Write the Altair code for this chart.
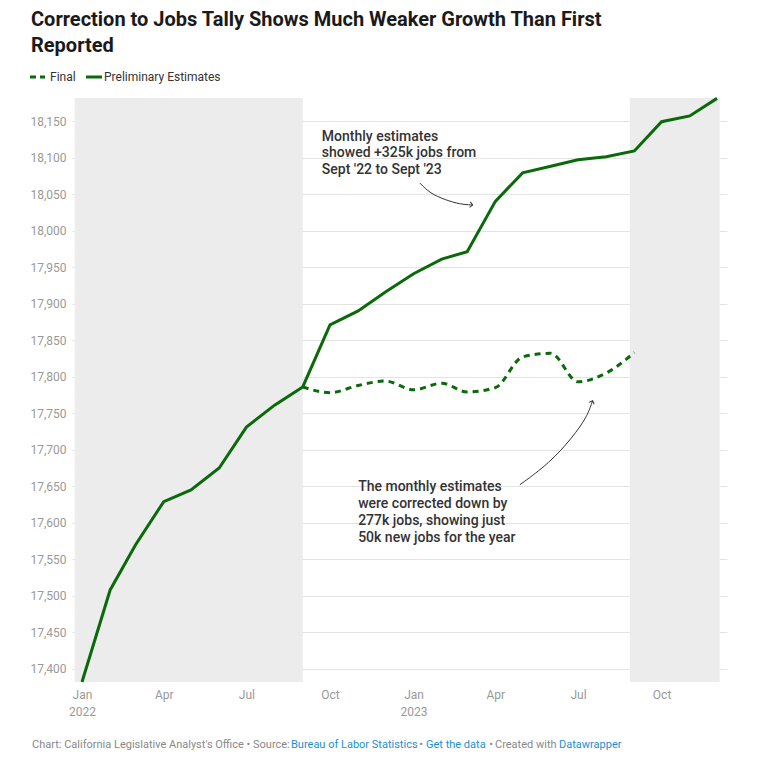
import altair as alt
import pandas as pd

# ---- data ----
months = pd.date_range("2022-01-01", "2023-12-01", freq="MS").strftime("%Y-%m-%dT00:00").tolist()
preliminary = [17382, 17508, 17570, 17629, 17645, 17675, 17731, 17761, 17786,
               17871, 17890, 17916, 17941, 17961, 17971, 18040, 18079, 18088,
               18097, 18101, 18109, 18149, 18157, 18181]
final_months = months[8:21]
final = [17786, 17778, 17788, 17794, 17782, 17791, 17779, 17785, 17827, 17832,
         17793, 17805, 17833]

band_start = ["2021-12-24T00:00", "2023-08-27T00:00"]
band_end = ["2022-09-01T00:00", "2023-12-04T00:00"]

y_ticks = list(range(17400, 18151, 50))
x_ticks = ["2022-01-01T00:00", "2022-04-01T00:00", "2022-07-01T00:00", "2022-10-01T00:00",
           "2023-01-01T00:00", "2023-04-01T00:00", "2023-07-01T00:00", "2023-10-01T00:00"]

ann1_lines = ["Monthly estimates", "showed +325k jobs from", "Sept '22 to Sept '23"]
ann1_x = "2022-09-22T00:00"
ann1_y = [18128, 18106, 18083]
ann2_lines = ["The monthly estimates", "were corrected down by",
              "277k jobs, showing just", "50k new jobs for the year"]
ann2_x = "2022-11-01T00:00"
ann2_y = [17649, 17626, 17603, 17579]

arrow1_x = ["2023-01-08T00:00", "2023-01-19T00:00", "2023-02-05T00:00", "2023-02-21T00:00", "2023-03-07T00:00"]
arrow1_y = [18065, 18051, 18042, 18036, 18035]
arrow2_x = ["2023-04-28T00:00", "2023-05-31T00:00", "2023-06-25T00:00", "2023-07-11T00:00", "2023-07-17T00:00"]
arrow2_y = [17652, 17682, 17717, 17745, 17767]

title_lines = ["Correction to Jobs Tally Shows Much Weaker Growth Than First", "Reported"]
legend_labels = ["Final", "Preliminary Estimates"]
foot_items = ["Chart: California Legislative Analyst's Office • Source:", "Bureau of Labor Statistics", "•",
              "Get the data", "•", "Created with", "Datawrapper"]

GREEN = "#0a6a0a"
FONT = "Roboto"
GRAYTXT = "#888"
LINK = "#1d8fd0"

W, H = 655, 584
x_dom = ["2021-12-21T00:00", "2023-12-12T00:00"]
y_dom = [17382, 18181.5]

xs = alt.Scale(domain=x_dom, nice=False)
ys = alt.Scale(domain=y_dom, nice=False, zero=False)

# ---- tables ----
prelim_df = pd.DataFrame({"date": months, "value": preliminary})
final_df = pd.DataFrame({"date": final_months, "value": final})
band_df = pd.DataFrame({"start": band_start, "end": band_end})
ann_df = pd.DataFrame({
    "date": [ann1_x] * len(ann1_lines) + [ann2_x] * len(ann2_lines),
    "value": ann1_y + ann2_y,
    "text": ann1_lines + ann2_lines,
})
arrow_df = pd.DataFrame({
    "date": arrow1_x + arrow2_x,
    "value": arrow1_y + arrow2_y,
    "arrow": ["a"] * len(arrow1_x) + ["b"] * len(arrow2_x),
    "order": list(range(len(arrow1_x))) + list(range(len(arrow2_x))),
})
head_df = pd.DataFrame({"date": [arrow1_x[-1], arrow2_x[-1]],
                        "value": [arrow1_y[-1], arrow2_y[-1]],
                        "angle": [8, 291]})

x_axis = alt.Axis(
    values=x_ticks, title=None, grid=False, domain=False, ticks=False,
    labelExpr="month(datum.value) == 0 ? [timeFormat(datum.value, '%b'), timeFormat(datum.value, '%Y')] : timeFormat(datum.value, '%b')",
    labelFont=FONT, labelFontSize=12, labelColor="#999", labelPadding=7,
    labelLineHeight=17, labelFlush=False, labelOverlap=False,
)
y_axis = alt.Axis(
    values=y_ticks, title=None, format=",.0f", domain=False, ticks=False,
    labelFont=FONT, labelFontSize=12, labelColor="#999", labelPadding=6,
    grid=True, gridColor="#e3e3e3", gridWidth=1,
)

def X(field):
    return alt.X(field, type="temporal", scale=xs, axis=x_axis)

def Y(field):
    return alt.Y(field, type="quantitative", scale=ys, axis=y_axis)

bands = alt.Chart(band_df).mark_rect(color="#ececec").encode(
    x=X("start"), x2="end",
    y=alt.value(0), y2=alt.value(H),
)

prelim = alt.Chart(prelim_df).mark_line(color=GREEN, strokeWidth=3, strokeJoin="miter").encode(
    x=X("date"), y=Y("value"),
)

fin = alt.Chart(final_df).mark_line(color=GREEN, strokeWidth=3, strokeDash=[6, 5],
                                    interpolate="monotone").encode(
    x=X("date"), y=Y("value"),
)

ann = alt.Chart(ann_df).mark_text(align="left", baseline="middle", font=FONT, fontSize=14,
                                  fontWeight=500, color="#333").encode(
    x=X("date"), y=Y("value"), text="text:N",
)

arrows = alt.Chart(arrow_df).mark_line(color="#333", strokeWidth=1, interpolate="basis").encode(
    x=X("date"), y=Y("value"), detail="arrow:N", order="order:Q",
)

heads = alt.Chart(head_df).mark_point(shape="M-1,-1L0,0L-1,1", filled=False, color="#333",
                                      strokeWidth=1, size=30, opacity=1).encode(
    x=X("date"), y=Y("value"),
    angle=alt.Angle("angle:Q", scale=None),
)

one = pd.DataFrame({"k": [0]})

def label(text, px, py, align="left", **kw):
    # px, py: page pixel position -> plot coords (origin at page 72, 98)
    return alt.Chart(one).mark_text(align=align, baseline="middle", font=FONT, text=text, **kw).encode(
        x=alt.value(px - 72), y=alt.value(py - 98))

title1 = label(title_lines[0], 31, 20, fontSize=20, fontWeight="bold", color="#1a1a1a")
title2 = label(title_lines[1], 31, 46, fontSize=20, fontWeight="bold", color="#1a1a1a")

leg_dash = alt.Chart(one).mark_rule(color=GREEN, strokeWidth=3, strokeDash=[6, 4]).encode(
    x=alt.value(30 - 72), x2=alt.value(45 - 72), y=alt.value(77 - 98))
leg_solid = alt.Chart(one).mark_rule(color=GREEN, strokeWidth=3).encode(
    x=alt.value(86 - 72), x2=alt.value(102 - 72), y=alt.value(77 - 98))
leg1 = label(legend_labels[0], 50, 77, fontSize=12, color="#333")
leg2 = label(legend_labels[1], 104, 77, fontSize=12, color="#333")

foot_x = [32, 291, 421, 426, 491, 495, 559]
foot_al = ["left", "left", "center", "left", "center", "left", "left"]
foot_col = [GRAYTXT, LINK, GRAYTXT, LINK, GRAYTXT, GRAYTXT, LINK]
footers = [label(t, x, 745, align=a, fontSize=11, color=c)
           for t, x, a, c in zip(foot_items, foot_x, foot_al, foot_col)]

chart = alt.layer(
    bands, prelim, fin, arrows, heads, ann, title1, title2, leg_dash, leg_solid, leg1, leg2, *footers
).properties(
    width=W, height=H,
    autosize=alt.AutoSizeParams(type="none"),
    padding={"left": 64, "top": 90, "right": 33, "bottom": 69},
).configure(font=FONT).configure_view(stroke="transparent", strokeWidth=0)

chart.save("out.html", embed_options={"renderer": "svg", "actions": False})
